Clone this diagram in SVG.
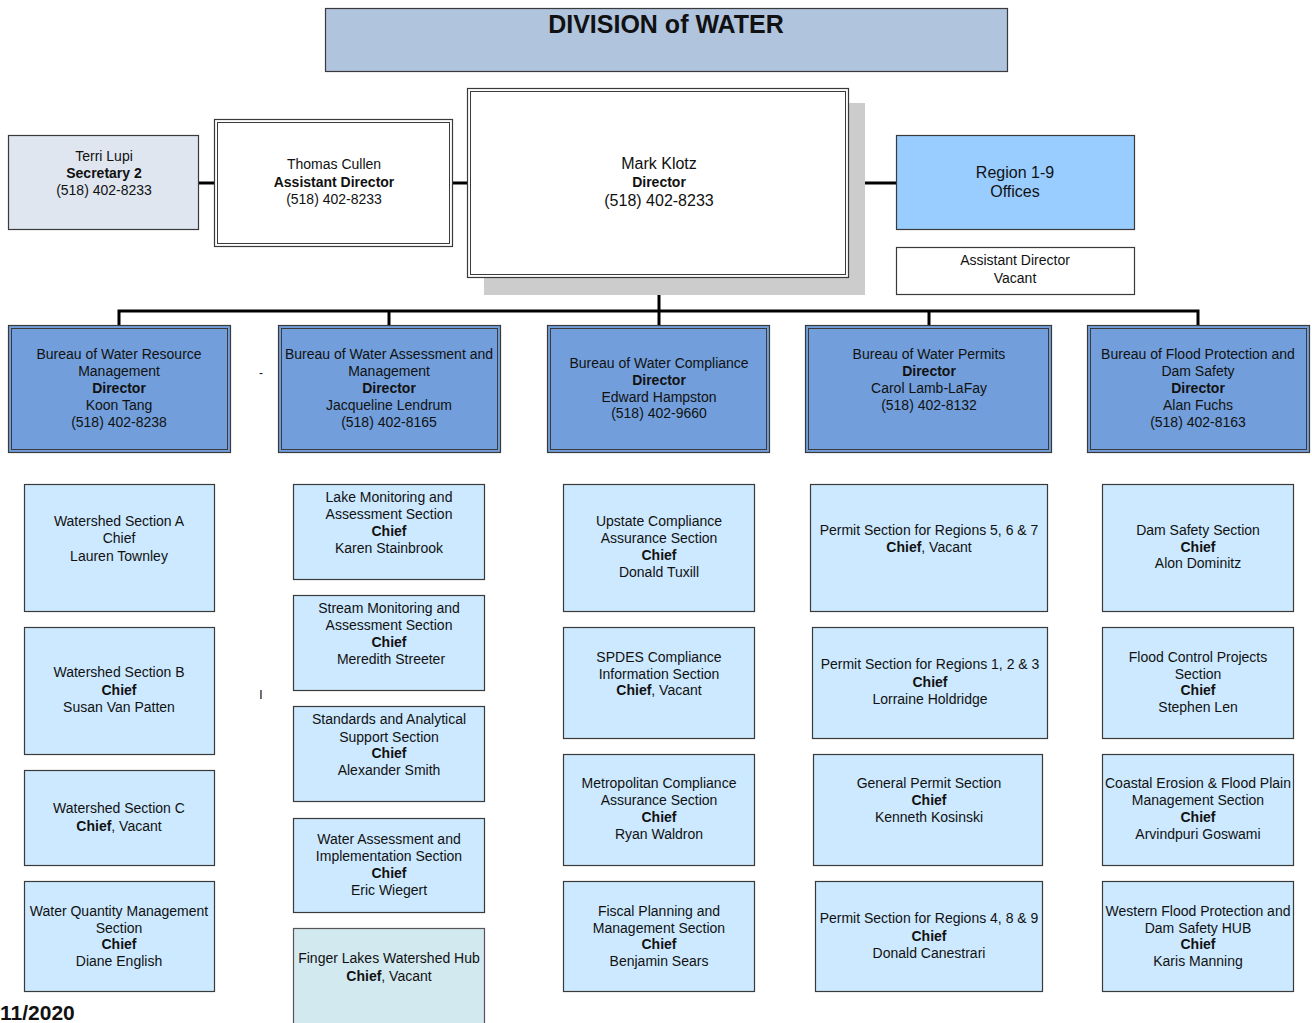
<svg xmlns="http://www.w3.org/2000/svg" width="1312" height="1023" viewBox="0 0 1312 1023">
<style>
text{font-family:"Liberation Sans",Arial,sans-serif;font-size:14px;fill:#111;text-anchor:middle}
.b{font-weight:bold}
.big{font-size:16px}
.title{font-size:25px;font-weight:bold}
.sec{fill:#CCE9FF;stroke:#3a3a3a;stroke-width:1.2}
.bur{fill:#729FDB;stroke:#3a3a3a;stroke-width:1.2}
.burin{fill:none;stroke:#3a3a3a;stroke-width:1}
.wht{fill:#fff;stroke:#3a3a3a;stroke-width:1.2}
.conn{stroke:#000;stroke-width:3;fill:none}
</style>
<rect width="1312" height="1023" fill="#fff"/>

<g id="title">
<rect x="325.5" y="8.5" width="682" height="63" fill="#B0C4DE" stroke="#3a3a3a" stroke-width="1.2"/>
<text class="title" x="666" y="33">DIVISION of WATER</text>
</g>

<g id="connectors">
<line class="conn" x1="199" y1="183" x2="215" y2="183"/>
<line class="conn" x1="452" y1="183" x2="469" y2="183"/>
<line class="conn" x1="849" y1="183" x2="897" y2="183"/>
<line class="conn" x1="659" y1="276" x2="659" y2="326"/>
<polyline class="conn" points="119,326 119,311 1198,311 1198,326"/>
<line class="conn" x1="389" y1="311" x2="389" y2="326"/>
<line class="conn" x1="929" y1="311" x2="929" y2="326"/>
</g>

<g id="secretary">
<rect x="8.5" y="135.5" width="190" height="94" fill="#DFE6F0" stroke="#3a3a3a" stroke-width="1.2"/>
<text x="104" y="161">Terri Lupi</text>
<text class="b" x="104" y="178">Secretary 2</text>
<text x="104" y="195">(518) 402-8233</text>
</g>

<g id="assistant-director">
<rect class="wht" x="214.5" y="119.5" width="238" height="127"/>
<rect class="burin" x="217.5" y="122.5" width="232" height="121"/>
<text x="334" y="169">Thomas Cullen</text>
<text class="b" x="334" y="187">Assistant Director</text>
<text x="334" y="204">(518) 402-8233</text>
</g>

<g id="director">
<rect x="484" y="103" width="381" height="192" fill="#CCCCCC"/>
<rect class="wht" x="467.5" y="88.5" width="381" height="189"/>
<rect class="burin" x="470.5" y="91.5" width="375" height="183"/>
<text class="big" x="659" y="169">Mark Klotz</text>
<text class="b" x="659" y="187">Director</text>
<text class="big" x="659" y="206">(518) 402-8233</text>
</g>

<g id="regions">
<rect x="896.5" y="135.5" width="238" height="94" fill="#99CCFF" stroke="#3a3a3a" stroke-width="1.2"/>
<text class="big" x="1015" y="178">Region 1-9</text>
<text class="big" x="1015" y="197">Offices</text>
</g>

<g id="assistant-director-vacant">
<rect class="wht" x="896.5" y="247.5" width="238" height="47"/>
<text x="1015" y="265">Assistant Director</text>
<text x="1015" y="283">Vacant</text>
</g>

<g id="bureau-wrm">
<rect class="bur" x="8.5" y="325.5" width="222" height="127"/>
<rect class="burin" x="11.5" y="328.5" width="216" height="121"/>
<text x="119" y="359">Bureau of Water Resource</text>
<text x="119" y="376">Management</text>
<text class="b" x="119" y="393">Director</text>
<text x="119" y="410">Koon Tang</text>
<text x="119" y="427">(518) 402-8238</text>
</g>

<g id="bureau-wam">
<rect class="bur" x="278.5" y="325.5" width="222" height="127"/>
<rect class="burin" x="281.5" y="328.5" width="216" height="121"/>
<text x="389" y="359">Bureau of Water Assessment and</text>
<text x="389" y="376">Management</text>
<text class="b" x="389" y="393">Director</text>
<text x="389" y="410">Jacqueline Lendrum</text>
<text x="389" y="427">(518) 402-8165</text>
</g>

<g id="bureau-wc">
<rect class="bur" x="547.5" y="325.5" width="222" height="127"/>
<rect class="burin" x="550.5" y="328.5" width="216" height="121"/>
<text x="659" y="368">Bureau of Water Compliance</text>
<text class="b" x="659" y="385">Director</text>
<text x="659" y="402">Edward Hampston</text>
<text x="659" y="418">(518) 402-9660</text>
</g>

<g id="bureau-wp">
<rect class="bur" x="805.5" y="325.5" width="246" height="127"/>
<rect class="burin" x="808.5" y="328.5" width="240" height="121"/>
<text x="929" y="359">Bureau of Water Permits</text>
<text class="b" x="929" y="376">Director</text>
<text x="929" y="393">Carol Lamb-LaFay</text>
<text x="929" y="410">(518) 402-8132</text>
</g>

<g id="bureau-fpds">
<rect class="bur" x="1087.5" y="325.5" width="222" height="127"/>
<rect class="burin" x="1090.5" y="328.5" width="216" height="121"/>
<text x="1198" y="359">Bureau of Flood Protection and</text>
<text x="1198" y="376">Dam Safety</text>
<text class="b" x="1198" y="393">Director</text>
<text x="1198" y="410">Alan Fuchs</text>
<text x="1198" y="427">(518) 402-8163</text>
</g>

<g id="marks">
<text x="261" y="377" style="font-size:12px">-</text>
<text x="261" y="699" style="font-size:12px;fill:#000">I</text>
</g>

<!-- Column 1 -->
<g id="watershed-a">
<rect class="sec" x="24.5" y="484.5" width="190" height="127"/>
<text x="119" y="526">Watershed Section A</text>
<text x="119" y="543">Chief</text>
<text x="119" y="561">Lauren Townley</text>
</g>
<g id="watershed-b">
<rect class="sec" x="24.5" y="627.5" width="190" height="127"/>
<text x="119" y="677">Watershed Section B</text>
<text class="b" x="119" y="695">Chief</text>
<text x="119" y="712">Susan Van Patten</text>
</g>
<g id="watershed-c">
<rect class="sec" x="24.5" y="770.5" width="190" height="95"/>
<text x="119" y="813">Watershed Section C</text>
<text x="119" y="831"><tspan class="b">Chief</tspan>, Vacant</text>
</g>
<g id="water-quantity">
<rect class="sec" x="24.5" y="881.5" width="190" height="110"/>
<text x="119" y="916">Water Quantity Management</text>
<text x="119" y="933">Section</text>
<text class="b" x="119" y="949">Chief</text>
<text x="119" y="966">Diane English</text>
</g>

<!-- Column 2 -->
<g id="lake-monitoring">
<rect class="sec" x="293.5" y="484.5" width="191" height="95"/>
<text x="389" y="502">Lake Monitoring and</text>
<text x="389" y="519">Assessment Section</text>
<text class="b" x="389" y="536">Chief</text>
<text x="389" y="553">Karen Stainbrook</text>
</g>
<g id="stream-monitoring">
<rect class="sec" x="293.5" y="595.5" width="191" height="95"/>
<text x="389" y="613">Stream Monitoring and</text>
<text x="389" y="630">Assessment Section</text>
<text class="b" x="389" y="647">Chief</text>
<text x="391" y="664">Meredith Streeter</text>
</g>
<g id="standards">
<rect class="sec" x="293.5" y="706.5" width="191" height="95"/>
<text x="389" y="724">Standards and Analytical</text>
<text x="389" y="742">Support Section</text>
<text class="b" x="389" y="758">Chief</text>
<text x="389" y="775">Alexander Smith</text>
</g>
<g id="water-assessment-impl">
<rect class="sec" x="293.5" y="818.5" width="191" height="94"/>
<text x="389" y="844">Water Assessment and</text>
<text x="389" y="861">Implementation Section</text>
<text class="b" x="389" y="878">Chief</text>
<text x="389" y="895">Eric Wiegert</text>
</g>
<g id="finger-lakes">
<rect x="293.5" y="928.5" width="191" height="110" fill="#D2E9F0" stroke="#555" stroke-width="1.2"/>
<text x="389" y="963">Finger Lakes Watershed Hub</text>
<text x="389" y="981"><tspan class="b">Chief</tspan>, Vacant</text>
</g>

<!-- Column 3 -->
<g id="upstate-compliance">
<rect class="sec" x="563.5" y="484.5" width="191" height="127"/>
<text x="659" y="526">Upstate Compliance</text>
<text x="659" y="543">Assurance Section</text>
<text class="b" x="659" y="560">Chief</text>
<text x="659" y="577">Donald Tuxill</text>
</g>
<g id="spdes">
<rect class="sec" x="563.5" y="627.5" width="191" height="111"/>
<text x="659" y="662">SPDES Compliance</text>
<text x="659" y="679">Information Section</text>
<text x="659" y="695"><tspan class="b">Chief</tspan>, Vacant</text>
</g>
<g id="metro-compliance">
<rect class="sec" x="563.5" y="754.5" width="191" height="111"/>
<text x="659" y="788">Metropolitan Compliance</text>
<text x="659" y="805">Assurance Section</text>
<text class="b" x="659" y="822">Chief</text>
<text x="659" y="839">Ryan Waldron</text>
</g>
<g id="fiscal">
<rect class="sec" x="563.5" y="881.5" width="191" height="110"/>
<text x="659" y="916">Fiscal Planning and</text>
<text x="659" y="933">Management Section</text>
<text class="b" x="659" y="949">Chief</text>
<text x="659" y="966">Benjamin Sears</text>
</g>

<!-- Column 4 -->
<g id="permit-567">
<rect class="sec" x="810.5" y="484.5" width="237" height="127"/>
<text x="929" y="535">Permit Section for Regions 5, 6 &amp; 7</text>
<text x="929" y="552"><tspan class="b">Chief</tspan>, Vacant</text>
</g>
<g id="permit-123">
<rect class="sec" x="812.5" y="627.5" width="235" height="111"/>
<text x="930" y="669">Permit Section for Regions 1, 2 &amp; 3</text>
<text class="b" x="930" y="687">Chief</text>
<text x="930" y="704">Lorraine Holdridge</text>
</g>
<g id="general-permit">
<rect class="sec" x="813.5" y="754.5" width="229" height="111"/>
<text x="929" y="788">General Permit Section</text>
<text class="b" x="929" y="805">Chief</text>
<text x="929" y="822">Kenneth Kosinski</text>
</g>
<g id="permit-489">
<rect class="sec" x="815.5" y="881.5" width="227" height="110"/>
<text x="929" y="923">Permit Section for Regions 4, 8 &amp; 9</text>
<text class="b" x="929" y="941">Chief</text>
<text x="929" y="958">Donald Canestrari</text>
</g>

<!-- Column 5 -->
<g id="dam-safety">
<rect class="sec" x="1102.5" y="484.5" width="191" height="127"/>
<text x="1198" y="535">Dam Safety Section</text>
<text class="b" x="1198" y="552">Chief</text>
<text x="1198" y="568">Alon Dominitz</text>
</g>
<g id="flood-control">
<rect class="sec" x="1102.5" y="627.5" width="191" height="111"/>
<text x="1198" y="662">Flood Control Projects</text>
<text x="1198" y="679">Section</text>
<text class="b" x="1198" y="695">Chief</text>
<text x="1198" y="712">Stephen Len</text>
</g>
<g id="coastal-erosion">
<rect class="sec" x="1102.5" y="754.5" width="191" height="111"/>
<text x="1198" y="788">Coastal Erosion &amp; Flood Plain</text>
<text x="1198" y="805">Management Section</text>
<text class="b" x="1198" y="822">Chief</text>
<text x="1198" y="839">Arvindpuri Goswami</text>
</g>
<g id="western-flood">
<rect class="sec" x="1102.5" y="881.5" width="191" height="110"/>
<text x="1198" y="916">Western Flood Protection and</text>
<text x="1198" y="933">Dam Safety HUB</text>
<text class="b" x="1198" y="949">Chief</text>
<text x="1198" y="966">Karis Manning</text>
</g>

<text x="0" y="1020" style="font-size:21px;font-weight:bold;text-anchor:start">11/2020</text>
</svg>
